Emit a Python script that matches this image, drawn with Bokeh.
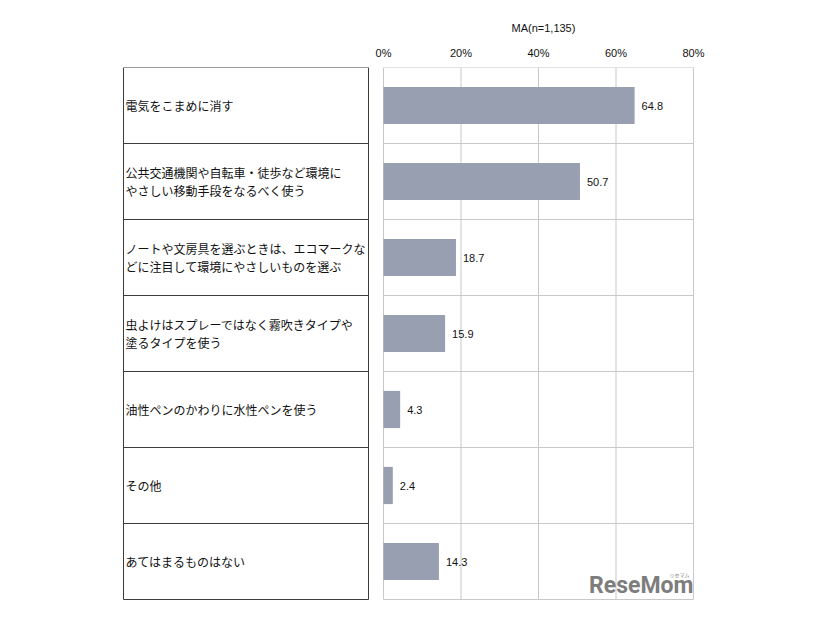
from bokeh.plotting import figure
from bokeh.models import Range1d, FixedTicker
from bokeh.core.properties import value
from bokeh.embed import file_html
from bokeh.resources import INLINE

# ---- data ----
categories = [
    "電気をこまめに消す",
    "公共交通機関や自転車・徒歩など環境に\nやさしい移動手段をなるべく使う",
    "ノートや文房具を選ぶときは、エコマークな\nどに注目して環境にやさしいものを選ぶ",
    "虫よけはスプレーではなく霧吹きタイプや\n塗るタイプを使う",
    "油性ペンのかわりに水性ペンを使う",
    "その他",
    "あてはまるものはない",
]
values = [64.8, 50.7, 18.7, 15.9, 4.3, 2.4, 14.3]
ticks = [0, 20, 40, 60, 80]
tick_labels = ["0%", "20%", "40%", "60%", "80%"]
title_text = "MA(n=1,135)"

# ---- layout constants ----
W, H = 826, 620
TOP = 67          # pixel of plot top
ROW = 76          # pixel height of one row
X0 = 383          # pixel of 0%
PX_PER = 3.875    # pixels per percent
LBOX_L, LBOX_R = 123, 368

n = len(categories)
idx = list(range(n))

x_start = -X0 / PX_PER
x_end = (W - X0) / PX_PER
y_top = -0.5
y_bottom = -0.5 + (H - TOP) / ROW

p = figure(width=W, height=H, output_backend="svg", toolbar_location=None,
           x_range=Range1d(x_start, x_end), y_range=Range1d(y_bottom, y_top),
           x_axis_location="above", y_axis_location=None,
           min_border_left=0, min_border_right=0, min_border_bottom=0,
           min_border_top=TOP, title=title_text)
p.outline_line_color = None
p.xgrid.grid_line_color = None
p.ygrid.grid_line_color = None
p.background_fill_color = "white"
p.border_fill_color = "white"

# title
p.title.align = "left"
p.title.offset = 511
p.title.text_font = "Liberation Sans"
p.title.text_font_style = "normal"
p.title.text_font_size = "11px"
p.title.text_color = "#111111"
p.title.standoff = 19

# axis
ax = p.xaxis[0]
ax.ticker = FixedTicker(ticks=ticks)
ax.major_label_overrides = {t: l for t, l in zip(ticks, tick_labels)}
ax.axis_line_color = None
ax.major_tick_line_color = None
ax.minor_tick_line_color = None
ax.major_tick_out = 0
ax.major_tick_in = 0
ax.major_label_standoff = 9
ax.major_label_text_font = "Liberation Sans"
ax.major_label_text_font_size = "11px"
ax.major_label_text_color = "#111111"

LX = (LBOX_L - X0) / PX_PER
RX = (LBOX_R - X0) / PX_PER

# left label box
p.quad(left=[LX], right=[RX], top=[-0.5], bottom=[n - 0.5],
       fill_color=None, line_color="#3c3c3c", line_width=1)
seps = [i + 0.5 for i in range(n - 1)]
p.segment(x0=[LX] * len(seps), x1=[RX] * len(seps), y0=seps, y1=seps,
          line_color="#3c3c3c", line_width=1)

# plot grid
gc = "#c8c8c8"
p.segment(x0=ticks, x1=ticks, y0=[-0.5] * len(ticks), y1=[n - 0.5] * len(ticks),
          line_color=gc, line_width=1)
hb = [i - 0.5 for i in range(n + 1)]
p.segment(x0=[ticks[0]] * len(hb), x1=[ticks[-1]] * len(hb), y0=hb, y1=hb,
          line_color=gc, line_width=1)

# bars
p.hbar(y=idx, left=0, right=values, height=0.49, fill_color="#989fb0", line_color=None)

# value labels
p.text(x=values, y=idx, text=[f"{v:.1f}" for v in values], x_offset=7,
       text_baseline="middle", text_align="left",
       text_font=value("Liberation Sans"), text_font_size="11px", text_color="#111111")

# category labels
p.text(x=[LX] * n, y=idx, text=categories, x_offset=2,
       text_baseline="middle", text_align="left",
       text_font=value("Noto Sans CJK JP"), text_font_size="12px",
       text_line_height=1.05, text_color="#111111")

# watermark
p.text(x=[ticks[-1]], y=[n - 0.5], text=["ReseMom"], y_offset=-1,
       text_align="right", text_baseline="bottom",
       text_font=value("Roboto"), text_font_style="bold",
       text_font_size="23px", text_color="#7d7d7d")
p.text(x=[ticks[-1]], y=[n - 0.5], text=["リセマム"], x_offset=-4, y_offset=-22,
       text_align="right", text_baseline="bottom",
       text_font=value("Noto Sans CJK JP"), text_font_size="5px", text_color="#7d7d7d")

open("out.html", "w").write(file_html(p, INLINE))
